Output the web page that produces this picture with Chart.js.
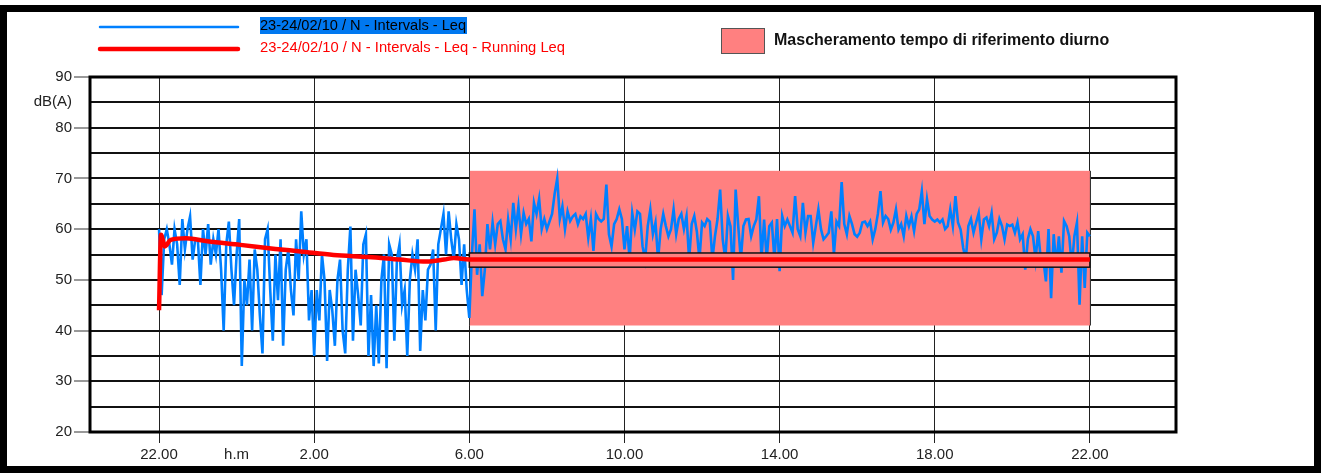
<!DOCTYPE html>
<html>
<head>
<meta charset="utf-8">
<script src="https://cdn.jsdelivr.net/npm/chart.js@4"></script>
<style>
  html, body { margin: 0; padding: 0; background: #fff; }
  canvas { display: block; }
</style>
</head>
<body>
<canvas id="grafico" width="1325" height="474"></canvas>
<script>
// asse x in ore dall'inizio della misura (22.00 = 0), un campione ogni 4 minuti
const passoOre = 4 / 60;

// Leq notturno 22.00 - 6.00, una riga per ora
const leqNotte = [
  [60, 47, 58, 60, 57, 53, 60, 57, 49, 62, 56, 60, 62.5, 54, 58],
  [58, 49, 60, 55, 61, 53, 58, 55, 60, 52, 40, 57, 61.5, 52, 45],
  [55, 62, 33, 50, 45, 54, 40, 56, 52, 43, 35.5, 58, 60, 48, 38],
  [55, 46, 58, 37, 52, 56, 48, 43, 58, 50, 63.5, 55, 58, 42, 48],
  [35, 48, 42, 55, 50, 34, 48, 44, 37, 50, 54, 40, 35.5, 52, 60.5],
  [38, 52, 47, 41, 57, 59, 35, 47, 33, 45, 33.5, 50, 55, 32.6, 57],
  [55, 38, 54, 57, 45, 48, 35, 50, 55, 52, 58, 36, 48, 42, 52],
  [53, 56, 40, 57, 60, 63, 55, 63.5, 58, 54, 61, 58, 49, 57, 48]
];

// Leq diurno 6.00 - 22.00
const leqGiorno = [
  [42.5, 55, 63.9, 51, 57, 46.8, 52, 61, 56, 61.3, 57, 61, 61.6, 58, 56],
  [61.9, 58, 65.2, 60, 64.5, 59, 63.2, 61, 62, 57.6, 65.2, 63, 66, 60, 62],
  [60, 61.5, 63, 67, 70, 62, 64.5, 60, 63.5, 61.6, 62.5, 63, 61, 62.5, 62],
  [63, 58.3, 62, 55.7, 63, 62, 61.5, 62, 68.8, 59, 56.6, 61, 62, 63.9, 62],
  [56, 60.6, 54, 63.2, 59.9, 63.5, 63, 56.6, 54, 60.6, 63.9, 59, 61.3, 54, 60],
  [63, 60.6, 58.6, 60, 63.9, 59, 62, 63, 60, 62.6, 54, 61, 62.6, 59.5, 54],
  [61.3, 60.6, 62, 61.5, 54, 58.6, 62, 67.8, 58, 54, 62.6, 60.6, 50, 67.8, 60.6],
  [54, 60.6, 61.9, 62, 58.6, 60.6, 61.9, 66.5, 54, 61.9, 54, 60.6, 61.3, 54, 62],
  [51.7, 62.6, 60.6, 61.9, 60.6, 59.3, 66.5, 60, 58.6, 65.2, 59.3, 62.6, 62.6, 57.3, 60.6],
  [63.9, 60, 58, 58.6, 59.3, 63.5, 55, 61.5, 60.6, 69.3, 61, 59, 62.6, 61, 59],
  [58.5, 59.3, 61.3, 61.5, 60.6, 61.5, 58, 60, 63, 67.5, 61.3, 62.6, 62, 59.9, 61.3],
  [63.9, 59.9, 61, 58.6, 62.6, 60.6, 62.5, 59.6, 63, 63.9, 67.5, 61, 65.9, 62.6, 61.9],
  [61.5, 61.9, 61.3, 61.9, 60, 60.6, 63.9, 60.6, 66.5, 61.3, 59.9, 56.3, 54, 60.6, 62],
  [59.3, 61.3, 63.2, 58, 61.9, 62.3, 60.6, 63.2, 58, 59.3, 62, 60.6, 58, 60.9, 60.6],
  [60.9, 59.3, 61.3, 58, 59, 52, 58, 60, 58.6, 54, 59.6, 54, 54, 49.7, 60],
  [46.4, 59, 52.7, 58.6, 51.4, 61.6, 60.6, 58.6, 52.7, 58.6, 61.3, 45.1, 58.6, 48.4, 59.3]
];
const leqFinale = [58.6];

// Running Leq
const runningOre = [0, 0.05, 0.15, 0.3, 0.7, 1.25, 2.1, 3.0, 3.65, 4.5, 5.4, 6.2, 6.9, 7.35, 7.6, 8, 24];
const runningLeq = [44, 58.9, 56.6, 57.9, 58.2, 57.6, 56.9, 56.1, 55.6, 54.9, 54.5, 54.0, 53.6, 54.0, 54.3, 54.0, 54.0];

// mascheramento tempo di riferimento diurno
const mascheraOre = [8, 24];
const mascheraDb = [41, 71.5];
const fasciaDb = [52.5, 55.3];

const xMin = -1.78, xMax = 26.22;
const xTickOre = [0, 2, 4, 8, 12, 16, 20, 24];
const xTickLabel = ['22.00', 'h.m', '2.00', '6.00', '10.00', '14.00', '18.00', '22.00'];
const yTicks = [20, 25, 30, 35, 40, 45, 50, 55, 60, 65, 70, 75, 80, 85, 90];
const yLabels = ['20', '', '30', '', '40', '', '50', '', '60', '', '70', '', '80', 'dB(A)', '90'];

const nomeLeq = '23-24/02/10 / N - Intervals - Leq';
const nomeRunning = '23-24/02/10 / N - Intervals - Leq - Running Leq';
const nomeMaschera = 'Mascheramento tempo di riferimento diurno';

const famiglia = "'Liberation Sans', Arial, Helvetica, sans-serif";

const leq = leqNotte.flat().concat(leqGiorno.flat(), leqFinale);
const puntiLeq = leq.map((v, i) => ({ x: i * passoOre, y: v }));
const puntiRunning = runningOre.map((t, i) => ({ x: t, y: runningLeq[i] }));

const cornice = {
  id: 'cornice',
  beforeDatasetsDraw(chart) {
    const { ctx, chartArea: a, scales: { x, y } } = chart;
    const x0 = x.getPixelForValue(mascheraOre[0]);
    const x1 = x.getPixelForValue(mascheraOre[1]);
    const y0 = y.getPixelForValue(mascheraDb[1]);
    const y1 = y.getPixelForValue(mascheraDb[0]);
    ctx.save();
    ctx.fillStyle = '#ff8080';
    ctx.fillRect(x0, y0, x1 - x0, y1 - y0);
    ctx.strokeStyle = '#333';
    ctx.lineWidth = 1;
    ctx.beginPath();
    ctx.moveTo(Math.round(x0) + 0.5, y0); ctx.lineTo(Math.round(x0) + 0.5, y1);
    ctx.moveTo(Math.round(x1) + 0.5, y0); ctx.lineTo(Math.round(x1) + 0.5, y1);
    ctx.stroke();
    // bordo del grafico
    ctx.lineWidth = 3;
    ctx.strokeStyle = '#000';
    ctx.strokeRect(a.left, a.top, a.right - a.left, a.bottom - a.top);
    ctx.restore();
  },
  beforeDatasetDraw(chart, args) {
    // la fascia va sopra il Leq e sotto il running Leq
    if (args.index !== 0) return;
    const { ctx, scales: { x, y } } = chart;
    const x0 = x.getPixelForValue(mascheraOre[0]);
    const x1 = x.getPixelForValue(mascheraOre[1]);
    const y0 = y.getPixelForValue(fasciaDb[1]);
    const y1 = y.getPixelForValue(fasciaDb[0]);
    ctx.save();
    ctx.fillStyle = '#ff8080';
    ctx.fillRect(x0, y0, x1 - x0, y1 - y0);
    ctx.strokeStyle = '#111';
    ctx.lineWidth = 1.5;
    ctx.strokeRect(x0, y0, x1 - x0, y1 - y0);
    ctx.restore();
  },
  afterDraw(chart) {
    const ctx = chart.ctx;
    ctx.save();
    // legenda
    ctx.lineCap = 'round';
    ctx.strokeStyle = '#0080ff';
    ctx.lineWidth = 2.5;
    ctx.beginPath(); ctx.moveTo(100, 27); ctx.lineTo(238, 27); ctx.stroke();
    ctx.strokeStyle = '#ff0000';
    ctx.lineWidth = 4.5;
    ctx.beginPath(); ctx.moveTo(100, 49); ctx.lineTo(238, 49); ctx.stroke();

    ctx.fillStyle = '#0078f0';
    ctx.fillRect(260, 17, 207, 17);
    ctx.font = '15px ' + famiglia;
    ctx.textBaseline = 'middle';
    ctx.fillStyle = '#000';
    ctx.fillText(nomeLeq, 260, 26, 206);
    ctx.fillStyle = '#ff0000';
    ctx.fillText(nomeRunning, 260, 48, 305);

    ctx.fillStyle = '#ff8080';
    ctx.fillRect(721, 28, 44, 26);
    ctx.strokeStyle = '#555';
    ctx.lineWidth = 1;
    ctx.strokeRect(721.5, 28.5, 43, 25);
    ctx.fillStyle = '#111';
    ctx.font = 'bold 16px ' + famiglia;
    ctx.fillText(nomeMaschera, 774, 41, 383);

    // cornice esterna
    ctx.strokeStyle = '#000';
    ctx.lineWidth = 7;
    ctx.strokeRect(3.5, 8.5, 1314, 461);
    ctx.restore();
  }
};

new Chart(document.getElementById('grafico'), {
  type: 'line',
  data: {
    datasets: [
      {
        label: nomeRunning,
        data: puntiRunning,
        borderColor: '#ff0000',
        borderWidth: 4.5,
        cubicInterpolationMode: 'monotone',
        pointRadius: 0
      },
      {
        label: nomeLeq,
        data: puntiLeq,
        borderColor: '#0080ff',
        borderWidth: 2.6,
        tension: 0,
        pointRadius: 0
      }
    ]
  },
  options: {
    responsive: false,
    animation: false,
    devicePixelRatio: 1,
    layout: { padding: { left: 0, top: 77, right: 149, bottom: 0 } },
    plugins: { legend: { display: false }, tooltip: { enabled: false } },
    scales: {
      x: {
        type: 'linear',
        min: xMin,
        max: xMax,
        afterBuildTicks: s => { s.ticks = xTickOre.map(v => ({ value: v })); },
        afterFit: s => { s.height = 42; },
        border: { display: false },
        grid: {
          color: c => (c.tick && c.tick.value === 2) ? 'rgba(0,0,0,0)' : '#222',
          lineWidth: 1,
          tickLength: 11
        },
        ticks: {
          autoSkip: false,
          maxRotation: 0,
          padding: 3,
          color: '#222',
          font: { size: 15, family: famiglia },
          callback: (v, i) => xTickLabel[i]
        }
      },
      y: {
        min: 20,
        max: 90,
        afterBuildTicks: s => { s.ticks = yTicks.map(v => ({ value: v })); },
        afterFit: s => { s.width = 90; },
        border: { display: false },
        grid: {
          color: '#111',
          lineWidth: 2,
          tickLength: 16,
          tickWidth: 1.5,
          tickColor: c => (c.tick && c.tick.value % 10 === 0) ? '#777' : 'rgba(0,0,0,0)'
        },
        ticks: {
          padding: 2,
          color: '#222',
          font: { size: 15, family: famiglia },
          callback: (v, i) => yLabels[i]
        }
      }
    }
  },
  plugins: [cornice]
});
</script>
</body>
</html>
